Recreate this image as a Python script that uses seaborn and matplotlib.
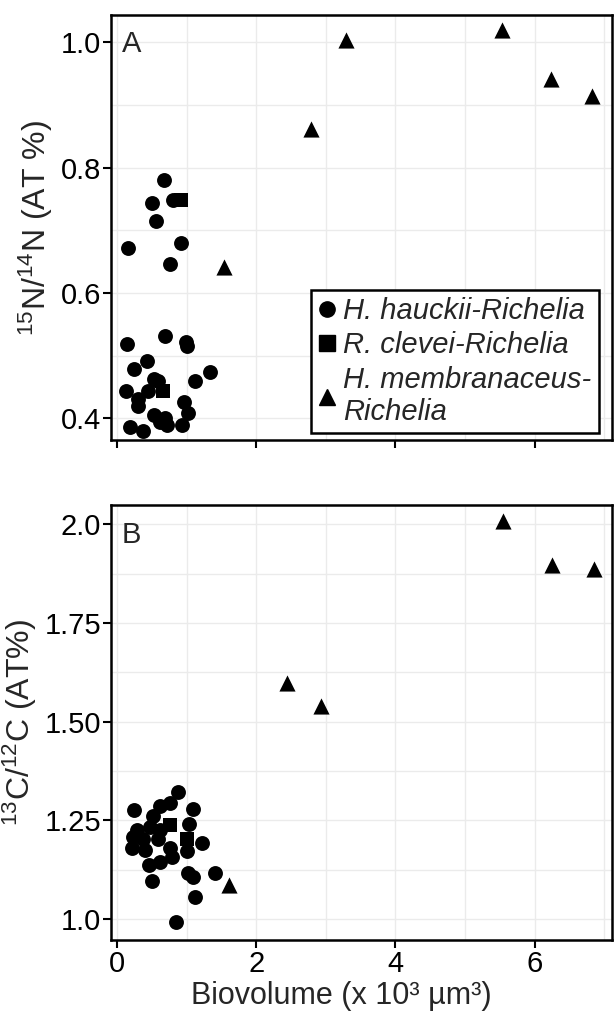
import numpy as np
import pandas as pd
import matplotlib
matplotlib.use("Agg")
import matplotlib.pyplot as plt
from matplotlib.ticker import FixedLocator
import seaborn as sns

# ---- data (biovolume in 10^3 um^3) ----
species = ["H. hauckii-Richelia", "R. clevei-Richelia", "H. membranaceus-\nRichelia"]

# panel A: 15N/14N (AT %)
hauckii_vol_a = [0.675, 0.507, 0.81, 0.555, 0.153, 0.924, 0.762,
                 0.148, 0.690, 0.987, 1.00, 0.427, 0.249, 0.536, 0.594, 1.336, 1.121,
                 0.129, 0.440, 0.307, 0.297, 0.963, 1.025, 0.536, 0.690, 0.713, 0.929,
                 0.187, 0.378, 0.618]
hauckii_n = [0.780, 0.743, 0.749, 0.714, 0.672, 0.679, 0.646,
             0.518, 0.532, 0.522, 0.515, 0.492, 0.479, 0.463, 0.459, 0.474, 0.459,
             0.444, 0.443, 0.430, 0.419, 0.426, 0.408, 0.406, 0.401, 0.390, 0.390,
             0.386, 0.380, 0.394]
clevei_vol_a = [0.914, 0.666]
clevei_n = [0.749, 0.444]
membr_vol_a = [1.54, 2.79, 3.29, 5.53, 6.24, 6.82]
membr_n = [0.642, 0.862, 1.003, 1.019, 0.941, 0.915]

# panel B: 13C/12C (AT%)
hauckii_vol_b = [0.881, 0.249, 0.618, 0.761, 1.087, 0.522, 1.039, 0.283, 0.474,
                 0.618, 0.234, 0.378, 0.593, 1.217, 0.211, 0.402, 0.761, 1.001,
                 0.786, 0.618, 0.464, 1.025, 1.087, 1.408, 0.507, 1.121, 0.852]
hauckii_c = [1.321, 1.276, 1.286, 1.293, 1.278, 1.261, 1.242, 1.225, 1.234,
             1.225, 1.207, 1.204, 1.202, 1.192, 1.179, 1.175, 1.179, 1.173,
             1.158, 1.145, 1.137, 1.116, 1.106, 1.117, 1.097, 1.056, 0.993]
clevei_vol_b = [0.761, 1.010]
clevei_c = [1.238, 1.204]
membr_vol_b = [1.61, 2.44, 2.93, 5.55, 6.25, 6.85]
membr_c = [1.086, 1.597, 1.539, 2.008, 1.896, 1.886]

y_ticks_a = [0.4, 0.6, 0.8, 1.0]
y_labels_a = ["0.4", "0.6", "0.8", "1.0"]
y_ticks_b = [1.0, 1.25, 1.5, 1.75, 2.0]
y_labels_b = ["1.0", "1.25", "1.50", "1.75", "2.0"]
x_ticks = [0, 2, 4, 6]
x_labels = ["0", "2", "4", "6"]

sns.set_style("whitegrid")
plt.rcParams["font.family"] = ["Liberation Sans", "DejaVu Sans"]
plt.rcParams["mathtext.fontset"] = "custom"
plt.rcParams["mathtext.rm"] = "Liberation Sans"
plt.rcParams["mathtext.it"] = "Liberation Sans:italic"

markers = {species[0]: "o", species[1]: "s", species[2]: "^"}
msizes = {species[0]: 115, species[1]: 110, species[2]: 135}
TICK_FS = 21


def make_frame(vols, vals):
    parts = []
    for sp, v, y in zip(species, vols, vals):
        parts.append(pd.DataFrame({"vol": v, "val": y, "species": sp}))
    return pd.concat(parts, ignore_index=True)


df_a = make_frame([hauckii_vol_a, clevei_vol_a, membr_vol_a], [hauckii_n, clevei_n, membr_n])
df_b = make_frame([hauckii_vol_b, clevei_vol_b, membr_vol_b], [hauckii_c, clevei_c, membr_c])

fig = plt.figure(figsize=(6.15, 10.19), dpi=100)
ax_a = fig.add_axes([0.180, 0.568, 0.815, 0.417])
ax_b = fig.add_axes([0.180, 0.0775, 0.815, 0.4265])


def draw(ax, df):
    for sp in species:
        sub = df[df["species"] == sp]
        sns.scatterplot(data=sub, x="vol", y="val", marker=markers[sp], s=msizes[sp],
                        color="black", edgecolor="black", linewidth=0,
                        ax=ax, legend=False, zorder=3)
    ax.set_xlim(-0.09, 7.11)
    ax.xaxis.set_major_locator(FixedLocator(x_ticks))
    ax.xaxis.set_minor_locator(FixedLocator([1, 3, 5, 7]))
    ax.grid(which="both", color="#ebebeb", linewidth=1.0)
    ax.set_axisbelow(True)
    for s in ax.spines.values():
        s.set_color("black")
        s.set_linewidth(1.8)
    ax.tick_params(which="major", direction="out", length=6, width=1.5,
                   color="black", labelsize=TICK_FS, labelcolor="black", pad=1,
                   bottom=True, left=True)
    ax.tick_params(which="minor", length=0)


draw(ax_a, df_a)
ax_a.set_ylim(0.365, 1.043)
ax_a.yaxis.set_major_locator(FixedLocator(y_ticks_a))
ax_a.yaxis.set_minor_locator(FixedLocator([0.5, 0.7, 0.9]))
ax_a.set_yticklabels(y_labels_a)
ax_a.set_xticklabels([])
ax_a.set_xlabel("")
ax_a.set_ylabel(r"$^{15}$N/$^{14}$N (AT %)", fontsize=23, labelpad=4)
ax_a.text(0.022, 0.965, "A", transform=ax_a.transAxes, fontsize=TICK_FS, va="top", ha="left")

handles = [plt.Line2D([0], [0], marker=markers[sp], color="w", markerfacecolor="black",
                      markeredgecolor="black", markersize=11 if sp != species[2] else 12,
                      label=sp) for sp in species]
leg = ax_a.legend(handles=handles, loc="lower right", bbox_to_anchor=(0.974, 0.016),
                  frameon=True, fancybox=False, framealpha=1, edgecolor="black",
                  prop={"style": "italic", "size": 21}, handlelength=0.6,
                  handletextpad=0.25, labelspacing=0.22, borderpad=0.25,
                  borderaxespad=0)
leg.get_frame().set_linewidth(1.8)

draw(ax_b, df_b)
ax_b.set_ylim(0.947, 2.048)
ax_b.yaxis.set_major_locator(FixedLocator(y_ticks_b))
ax_b.yaxis.set_minor_locator(FixedLocator([1.125, 1.375, 1.625, 1.875]))
ax_b.set_yticklabels(y_labels_b)
ax_b.set_xticklabels(x_labels)
ax_b.set_xlabel("Biovolume (x 10³ µm³)", fontsize=22, labelpad=2, x=0.46)
ax_b.set_ylabel(r"$^{13}$C/$^{12}$C (AT%)", fontsize=23, labelpad=4)
ax_b.text(0.022, 0.965, "B", transform=ax_b.transAxes, fontsize=TICK_FS, va="top", ha="left")

fig.savefig("out.png", dpi=100)
